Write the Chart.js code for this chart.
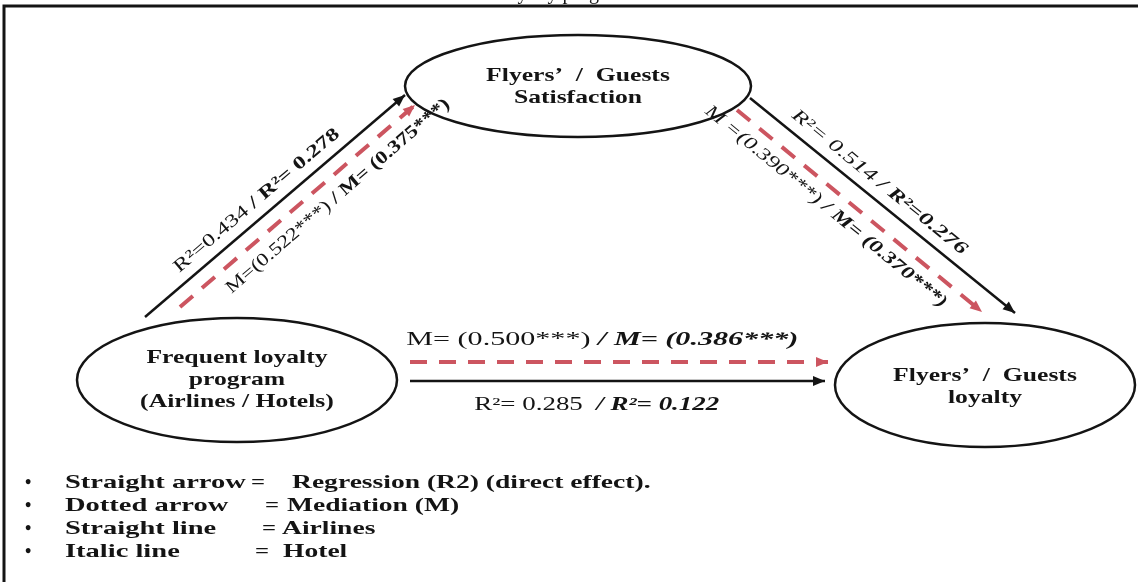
<!DOCTYPE html>
<html>
<head>
<meta charset="utf-8">
<script src="https://cdn.jsdelivr.net/npm/chart.js@4.4.1/dist/chart.umd.min.js"></script>
<style>
  html, body { margin: 0; padding: 0; background: #fff; }
  #wrap { width: 1138px; height: 582px; }
</style>
</head>
<body>
<div id="wrap"><canvas id="pathChart" width="1138" height="582"></canvas></div>
<script>
// model constructs and their text
const constructs = ['Frequent loyalty program', 'Satisfaction', 'Loyalty'];
const nodeLines = [
    ['Frequent loyalty', 'program', '(Airlines / Hotels)'],
    ['Flyers’  /  Guests', 'Satisfaction'],
    ['Flyers’  /  Guests', 'loyalty']
];

// paths: program -> satisfaction, satisfaction -> loyalty, program -> loyalty
const pathFrom = [0, 1, 0];
const pathTo = [1, 2, 2];
const r2Airlines = [0.434, 0.514, 0.285];
const r2Hotels = [0.278, 0.276, 0.122];
const mAirlines = [0.522, 0.390, 0.500];
const mHotels = [0.375, 0.370, 0.386];

const legendKeys = ['Straight arrow', 'Dotted arrow', 'Straight line', 'Italic line'];
const legendValues = ['Regression (R2) (direct effect).', 'Mediation (M)', 'Airlines', 'Hotel'];

// ---- layout (pixel units of the hidden scales) ----
const FONT = '"Liberation Serif", "Times New Roman", serif';
const RED = '#cc5560';
const INK = '#141414';
const nodeShape = [
    {x: 237, y: 380, rx: 160, ry: 62, lines: [358, 380, 402]},
    {x: 578, y: 86, rx: 173, ry: 51, lines: [76, 98]},
    {x: 985, y: 385, rx: 150, ry: 62, lines: [376, 398]}
];
const pathGeom = [
    {solid: [[145, 317], [405, 95]], dashed: [[180, 307], [415, 105]],
        r2: {t: 0.47, off: -16, len: 212}, m: {t: 0.62, off: 19, len: 289}},
    {solid: [[750, 98], [1015, 313]], dashed: [[737, 110], [982, 312]],
        r2: {t: 0.45, off: -16, len: 220}, m: {t: 0.41, off: 18, len: 308}},
    {solid: [[410, 381], [825, 381]], dashed: [[410, 362], [828, 362]],
        r2: {t: 0.45, off: 24, len: 245}, m: {t: 0.46, off: -22, len: 392}}
];
const legendRows = [483, 506, 529, 552];
const legendEq = [251, 265, 262, 255];
const legendVal = [292, 287, 282, 283];

function fmt(v) {
    return v.toFixed(3);
}

// text runs for each label, built from the values
function r2Runs(i) {
    const a = fmt(r2Airlines[i]), h = fmt(r2Hotels[i]);
    if (i === 0) return [{t: 'R²=' + a, f: '18px'}, {t: ' / R²= ' + h, f: 'bold 18px'}];
    if (i === 1) return [{t: 'R²= ' + a + ' ', f: 'italic 18px'}, {t: '/ R²=' + h, f: 'italic bold 18px'}];
    return [{t: 'R²= ' + a + '  ', f: '18px'}, {t: '/ R²= ' + h, f: 'italic bold 18px'}];
}
function mRuns(i) {
    const a = fmt(mAirlines[i]), h = fmt(mHotels[i]);
    if (i === 0) return [{t: 'M=(' + a + '***)', f: '18px'}, {t: ' / M= (' + h + '***)', f: 'bold 18px'}];
    if (i === 1) return [{t: 'M =(' + a + '***) ', f: 'italic 18px'}, {t: '/ M= (' + h + '***)', f: 'italic bold 18px'}];
    return [{t: 'M= (' + a + '***) ', f: '18px'}, {t: '/ M= (' + h + '***)', f: 'italic bold 18px'}];
}

function drawRuns(ctx, runs, x, y, angle, width, sx, align) {
    ctx.save();
    ctx.translate(x, y);
    ctx.rotate(angle);
    let total = 0;
    runs.forEach(r => {
        ctx.font = r.f + ' ' + FONT;
        r.w = ctx.measureText(r.t).width;
        total += r.w;
    });
    const k = width ? width / total : sx;
    ctx.scale(k, 1);
    ctx.fillStyle = INK;
    ctx.textBaseline = 'middle';
    ctx.textAlign = 'left';
    let cx = align === 'left' ? 0 : -total / 2;
    runs.forEach(r => {
        ctx.font = r.f + ' ' + FONT;
        ctx.fillText(r.t, cx, 0);
        cx += r.w;
    });
    ctx.restore();
}

function segmentData(seg) {
    return seg.map(p => ({x: p[0], y: p[1]}));
}

const datasets = [];
pathGeom.forEach((g, i) => {
    datasets.push({
        label: constructs[pathFrom[i]] + ' -> ' + constructs[pathTo[i]] + ' (R2)',
        data: segmentData(g.solid),
        showLine: true, borderColor: INK, borderWidth: 2.5,
        pointRadius: 0, clip: false
    });
    datasets.push({
        label: constructs[pathFrom[i]] + ' -> ' + constructs[pathTo[i]] + ' (M)',
        data: segmentData(g.dashed),
        showLine: true, borderColor: RED, borderWidth: 4, borderDash: [17, 12],
        pointRadius: 0, clip: false
    });
});

const diagramPlugin = {
    id: 'diagram',
    beforeDatasetsDraw(chart) {
        const ctx = chart.ctx;
        const X = v => chart.scales.x.getPixelForValue(v);
        const Y = v => chart.scales.y.getPixelForValue(v);
        ctx.save();
        // frame
        ctx.strokeStyle = INK;
        ctx.lineWidth = 3;
        ctx.beginPath();
        ctx.moveTo(X(4), Y(582));
        ctx.lineTo(X(4), Y(6));
        ctx.lineTo(X(1138), Y(6));
        ctx.stroke();
        // cut-off caption above the frame
        ctx.fillStyle = INK;
        ctx.font = '20px ' + FONT;
        ctx.textAlign = 'center';
        ctx.textBaseline = 'alphabetic';
        ctx.fillText('loyalty program', X(566), Y(-1));
        // nodes
        nodeShape.forEach((n, i) => {
            ctx.beginPath();
            ctx.ellipse(X(n.x), Y(n.y), n.rx, n.ry, 0, 0, Math.PI * 2);
            ctx.lineWidth = 2.5;
            ctx.strokeStyle = INK;
            ctx.stroke();
            nodeLines[i].forEach((line, j) => {
                drawRuns(ctx, [{t: line, f: 'bold 19px'}], X(n.x), Y(n.lines[j]), 0, null, 1.35);
            });
        });
        ctx.restore();
    },
    afterDatasetsDraw(chart) {
        const ctx = chart.ctx;
        const X = v => chart.scales.x.getPixelForValue(v);
        const Y = v => chart.scales.y.getPixelForValue(v);
        ctx.save();
        pathGeom.forEach((g, i) => {
            [[g.solid, INK], [g.dashed, RED]].forEach(([seg, col]) => {
                const x0 = X(seg[0][0]), y0 = Y(seg[0][1]);
                const x1 = X(seg[1][0]), y1 = Y(seg[1][1]);
                const a = Math.atan2(y1 - y0, x1 - x0);
                ctx.fillStyle = col;
                ctx.beginPath();
                ctx.moveTo(x1, y1);
                ctx.lineTo(x1 - 12 * Math.cos(a) + 5 * Math.sin(a), y1 - 12 * Math.sin(a) - 5 * Math.cos(a));
                ctx.lineTo(x1 - 12 * Math.cos(a) - 5 * Math.sin(a), y1 - 12 * Math.sin(a) + 5 * Math.cos(a));
                ctx.closePath();
                ctx.fill();
            });
            // labels along the arrows
            [[g.solid, g.r2, r2Runs(i)], [g.dashed, g.m, mRuns(i)]].forEach(([seg, pos, runs]) => {
                const x0 = X(seg[0][0]), y0 = Y(seg[0][1]);
                const x1 = X(seg[1][0]), y1 = Y(seg[1][1]);
                const len = Math.hypot(x1 - x0, y1 - y0);
                const dx = (x1 - x0) / len, dy = (y1 - y0) / len;
                const cx = x0 + (x1 - x0) * pos.t - dy * pos.off;
                const cy = y0 + (y1 - y0) * pos.t + dx * pos.off;
                drawRuns(ctx, runs, cx, cy, Math.atan2(dy, dx), pos.len, null);
            });
        });
        // key at the bottom
        legendKeys.forEach((key, i) => {
            const y = Y(legendRows[i]);
            drawRuns(ctx, [{t: '•', f: 'bold 18px'}], X(25), y, 0, null, 1, 'left');
            drawRuns(ctx, [{t: key, f: 'bold 19px'}], X(65), y, 0, null, 1.5, 'left');
            drawRuns(ctx, [{t: '=', f: 'bold 19px'}], X(legendEq[i]), y, 0, null, 1.3, 'left');
            drawRuns(ctx, [{t: legendValues[i], f: 'bold 19px'}], X(legendVal[i]), y, 0, null, 1.45, 'left');
        });
        ctx.restore();
    }
};

const pathCtx = document.getElementById('pathChart').getContext('2d');
const pathChart = new Chart(pathCtx, {
    type: 'scatter',
    data: {datasets: datasets},
    options: {
        responsive: false,
        animation: false,
        layout: {padding: 0},
        scales: {
            x: {type: 'linear', min: 0, max: 1138, display: false},
            y: {type: 'linear', min: 0, max: 582, reverse: true, display: false}
        },
        plugins: {
            legend: {display: false},
            tooltip: {enabled: false}
        }
    },
    plugins: [diagramPlugin]
});
</script>
</body>
</html>
